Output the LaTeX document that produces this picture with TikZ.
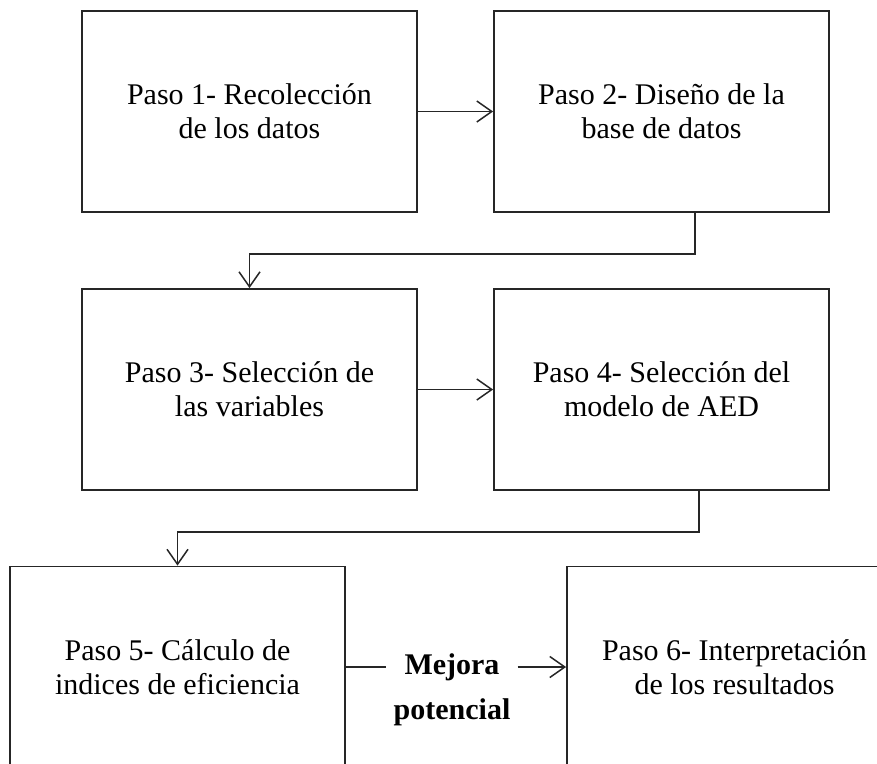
\documentclass[tikz,border=0pt]{standalone}
\usepackage{fontspec}
\setmainfont{Liberation Serif}
\usetikzlibrary{arrows.meta,calc}
\begin{document}
\begin{tikzpicture}[x=1pt,y=-1pt,
  stepbox/.style={draw=black!85,line width=1.8pt,minimum width=335pt,minimum height=201pt,
    inner sep=0pt,align=center,font=\fontsize{30}{34}\selectfont},
  conn/.style={draw=black!85,line width=1.8pt},
  arr/.style={conn,-{Straight Barb[length=15pt,width=21pt,line width=1.5pt]}},
  lbl/.style={font=\fontsize{30}{34}\selectfont\bfseries,inner xsep=18pt,inner ysep=0pt}]
\useasboundingbox (0,0) rectangle (877,763);
\clip (0,0) rectangle (877,763);
\node[stepbox] (b1) at (249.5,111.5) {Paso 1- Recolección\\de los datos};
\node[stepbox] (b2) at (661.5,111.5) {Paso 2- Diseño de la\\base de datos};
\node[stepbox] (b3) at (249.5,389.5) {Paso 3- Selección de\\las variables};
\node[stepbox] (b4) at (661.5,389.5) {Paso 4- Selección del\\modelo de AED};
\node[stepbox] (b5) at (177.5,667) {Paso 5- Cálculo de\\indices de eficiencia};
\node[stepbox] (b6) at (734.5,667) {Paso 6- Interpretación\\de los resultados};
\node[lbl] (mj) at (452,667) {Mejora};
\node[lbl] (pt) at (452,712) {potencial};
\coordinate (c2) at ($(b2.south)+(33.5,0)$);
\coordinate (c4) at ($(b4.south)+(37.5,0)$);
\draw[arr] (b1.east) -- (b2.west);
\draw[arr] (c2) -- ++(0,41) -| (b3.north);
\draw[arr] (b3.east) -- (b4.west);
\draw[arr] (c4) -- ++(0,41) -| (b5.north);
\draw[conn] (b5.east) -- (mj.west);
\draw[arr] (mj.east) -- (b6.west);
\end{tikzpicture}
\end{document}
